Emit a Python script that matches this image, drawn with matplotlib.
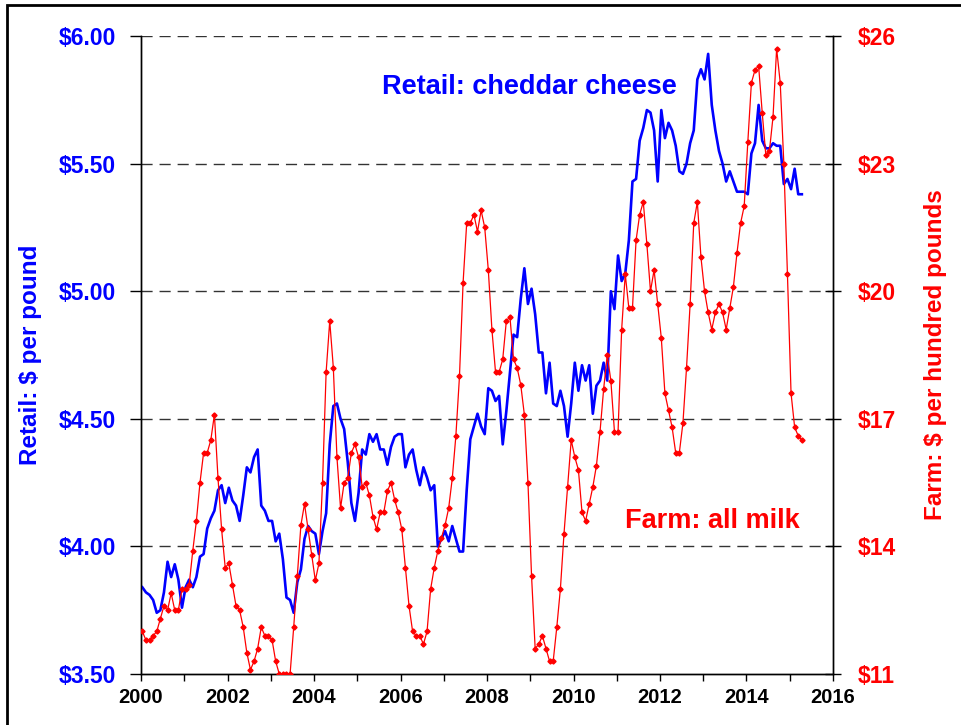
import matplotlib
matplotlib.use('Agg')
import matplotlib.pyplot as plt
import matplotlib.patches as patches
import numpy as np
import pandas as pd

plt.rcParams['font.family'] = ['Liberation Sans', 'DejaVu Sans']
plt.rcParams['font.weight'] = 'bold'

# monthly, Jan 2000 - Apr 2015
months = pd.date_range('2000-01-01', periods=184, freq='MS')

# retail cheddar cheese, $ per pound
retail = [
    3.84, 3.82, 3.81, 3.79, 3.74, 3.75, 3.82, 3.94, 3.88, 3.93, 3.87, 3.76,
    3.84, 3.87, 3.84, 3.88, 3.96, 3.97, 4.07, 4.11, 4.14, 4.22, 4.24, 4.17,
    4.23, 4.18, 4.16, 4.10, 4.20, 4.31, 4.29, 4.35, 4.38, 4.16, 4.14, 4.10,
    4.10, 4.02, 4.05, 3.95, 3.80, 3.79, 3.74, 3.86, 3.91, 4.03, 4.08, 4.06,
    4.05, 3.97, 4.06, 4.13, 4.40, 4.55, 4.56, 4.50, 4.46, 4.33, 4.17, 4.10,
    4.21, 4.38, 4.36, 4.44, 4.41, 4.44, 4.38, 4.38, 4.32, 4.39, 4.43, 4.44,
    4.44, 4.31, 4.36, 4.38, 4.30, 4.24, 4.31, 4.27, 4.22, 4.24, 4.00, 4.03,
    4.06, 4.02, 4.08, 4.03, 3.98, 3.98, 4.22, 4.42, 4.47, 4.52, 4.47, 4.44,
    4.62, 4.61, 4.57, 4.59, 4.40, 4.53, 4.68, 4.83, 4.82, 4.97, 5.09, 4.95,
    5.01, 4.91, 4.76, 4.76, 4.60, 4.72, 4.56, 4.55, 4.61, 4.55, 4.43, 4.56,
    4.72, 4.61, 4.71, 4.65, 4.71, 4.52, 4.63, 4.65, 4.72, 4.65, 5.00, 4.93,
    5.14, 5.04, 5.07, 5.20, 5.43, 5.44, 5.59, 5.64, 5.71, 5.70, 5.63, 5.43,
    5.71, 5.60, 5.66, 5.63, 5.57, 5.47, 5.46, 5.50, 5.58, 5.63, 5.83, 5.87,
    5.83, 5.93, 5.73, 5.63, 5.55, 5.50, 5.43, 5.47, 5.43, 5.39, 5.39, 5.39,
    5.38, 5.54, 5.58, 5.73, 5.59, 5.56, 5.56, 5.58, 5.57, 5.57, 5.42, 5.44,
    5.40, 5.48, 5.38, 5.38,
]

# farm all milk, $ per hundred pounds
farm = [
    12.0, 11.8, 11.8, 11.9, 12.0, 12.3, 12.6, 12.5, 12.9, 12.5, 12.5, 13.0,
    13.0, 13.1, 13.9, 14.6, 15.5, 16.2, 16.2, 16.5, 17.1, 15.6, 14.4, 13.5,
    13.6, 13.1, 12.6, 12.5, 12.1, 11.5, 11.1, 11.3, 11.6, 12.1, 11.9, 11.9,
    11.8, 11.3, 11.0, 11.0, 11.0, 11.0, 12.1, 13.3, 14.5, 15.0, 14.4, 13.8,
    13.2, 13.6, 15.5, 18.1, 19.3, 18.2, 16.1, 14.9, 15.5, 15.6, 16.2, 16.4,
    16.1, 15.4, 15.5, 15.2, 14.7, 14.4, 14.8, 14.8, 15.3, 15.5, 15.1, 14.8,
    14.4, 13.5, 12.6, 12.0, 11.9, 11.9, 11.7, 12.0, 13.0, 13.5, 13.9, 14.2,
    14.5, 14.9, 15.6, 16.6, 18.0, 20.2, 21.6, 21.6, 21.8, 21.4, 21.9, 21.5,
    20.5, 19.1, 18.1, 18.1, 18.4, 19.3, 19.4, 18.4, 18.2, 17.8, 17.1, 15.5,
    13.3, 11.6, 11.7, 11.9, 11.6, 11.3, 11.3, 12.1, 13.0, 14.3, 15.4, 16.5,
    16.1, 15.8, 14.8, 14.6, 15.0, 15.4, 15.9, 16.7, 17.7, 18.5, 17.9, 16.7,
    16.7, 19.1, 20.4, 19.6, 19.6, 21.2, 21.8, 22.1, 21.1, 20.0, 20.5, 19.7,
    18.9, 17.6, 17.2, 16.8, 16.2, 16.2, 16.9, 18.2, 19.7, 21.6, 22.1, 20.8,
    20.0, 19.5, 19.1, 19.5, 19.7, 19.5, 19.1, 19.6, 20.1, 20.9, 21.6, 22.0,
    23.5, 24.9, 25.2, 25.3, 24.2, 23.2, 23.3, 24.1, 25.7, 24.9, 23.0, 20.4,
    17.6, 16.8, 16.6, 16.5,
]

left_ticks = [3.5, 4.0, 4.5, 5.0, 5.5, 6.0]
left_labels = ['$3.50', '$4.00', '$4.50', '$5.00', '$5.50', '$6.00']
right_ticks = [11, 14, 17, 20, 23, 26]
right_labels = ['$11', '$14', '$17', '$20', '$23', '$26']
year_ticks = list(range(2000, 2017))
year_labels = [str(y) if y % 2 == 0 else '' for y in year_ticks]

x = months.year + (months.month - 1) / 12.0 + 0.03

fig = plt.figure(figsize=(9.62, 7.25), dpi=100)
ax = fig.add_axes([0.1466, 0.0703, 0.7193, 0.88])
ax2 = ax.twinx()

for yv in left_ticks[1:]:
    ax.axhline(yv, color='#333333', lw=1.0, ls=(0, (8, 5)), zorder=1)

ax.plot(x, retail, color='#0000ff', lw=1.9, zorder=3)
ax2.plot(x, farm, color='#ff0000', lw=0.9, marker='D', ms=2.6, mec='#ff0000', zorder=3)

ax.set_xlim(2000, 2016)
ax.set_ylim(3.5, 6.0)
ax2.set_ylim(11, 26)

ax.set_xticks(year_ticks)
ax.set_xticklabels(year_labels, fontsize=14.5, fontweight='bold', color='black')
ax.set_yticks(left_ticks)
ax.set_yticklabels(left_labels, fontsize=16.5, fontweight='bold', color='#0000ff')
ax2.set_yticks(right_ticks)
ax2.set_yticklabels(right_labels, fontsize=16.5, fontweight='bold', color='#ff0000')

ax.tick_params(axis='x', direction='out', length=5, width=1, pad=5)
ax.tick_params(axis='y', direction='out', length=8, width=1, pad=10)
ax2.tick_params(axis='y', direction='inout', length=12, width=1, pad=12)

for a in [ax, ax2]:
    a.spines['top'].set_visible(False)
    for s in ['left', 'right', 'bottom']:
        a.spines[s].set_linewidth(1.0)

ax.set_ylabel('Retail: $ per pound', fontsize=17.5, fontweight='bold', color='#0000ff', labelpad=12)
ax2.set_ylabel('Farm: $ per hundred pounds', fontsize=17.5, fontweight='bold', color='#ff0000', labelpad=20)

ax.text(2005.58, 5.80, 'Retail: cheddar cheese', fontsize=19.5, fontweight='bold',
        color='#0000ff', va='center', ha='left', zorder=4)
ax.text(2011.18, 4.10, 'Farm: all milk', fontsize=19.5, fontweight='bold',
        color='#ff0000', va='center', ha='left', zorder=4)

fig.patches.append(patches.Rectangle((7 / 962, -0.1), 1.2, 0.1 + (725 - 5) / 725,
                                     transform=fig.transFigure, fill=False,
                                     lw=2, edgecolor='black'))

fig.savefig('out.png', dpi=100)
